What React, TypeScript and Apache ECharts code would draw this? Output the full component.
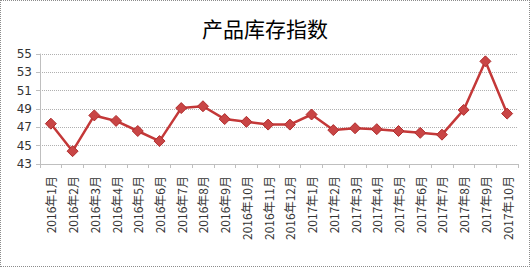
import React, { useEffect, useRef } from "react";
import * as echarts from "echarts";

const categories = [
  "2016年1月", "2016年2月", "2016年3月", "2016年4月", "2016年5月", "2016年6月",
  "2016年7月", "2016年8月", "2016年9月", "2016年10月", "2016年11月", "2016年12月",
  "2017年1月", "2017年2月", "2017年3月", "2017年4月", "2017年5月", "2017年6月",
  "2017年7月", "2017年8月", "2017年9月", "2017年10月",
];
const inventoryIndex = [
  47.4, 44.4, 48.3, 47.7, 46.6, 45.5, 49.1, 49.3, 47.9, 47.6, 47.3,
  47.3, 48.4, 46.7, 46.9, 46.8, 46.6, 46.4, 46.2, 48.9, 54.2, 48.5,
];
const title = "产品库存指数";

export default function App() {
  const ref = useRef<HTMLDivElement>(null);
  useEffect(() => {
    if (!ref.current) return;
    const chart = echarts.init(ref.current, undefined, { renderer: "svg" });
    chart.setOption({
      animation: false,
      backgroundColor: "#ffffff",
      title: {
        text: title,
        left: "center",
        top: 11,
        textStyle: {
          fontFamily: "Noto Sans CJK SC",
          fontSize: 21,
          fontWeight: "normal",
          color: "#000",
        },
      },
      grid: { left: 39, right: 11, top: 53, bottom: 102 },
      xAxis: {
        type: "category",
        data: categories,
        boundaryGap: true,
        axisLine: { lineStyle: { color: "#bfbfbf", width: 1 } },
        axisTick: { show: true, alignWithLabel: false, length: 4, lineStyle: { color: "#bfbfbf" } },
        axisLabel: {
          rotate: 90,
          interval: 0,
          margin: 12,
          fontSize: 12,
          color: "#333",
          fontFamily: "Noto Sans CJK SC",
        },
      },
      yAxis: {
        type: "value",
        min: 43,
        max: 55,
        interval: 2,
        axisLine: { show: true, lineStyle: { color: "#bfbfbf" } },
        axisTick: { show: true, length: 4, lineStyle: { color: "#bfbfbf" } },
        axisLabel: { fontSize: 12, color: "#333", margin: 8, fontFamily: "DejaVu Sans" },
        splitLine: { lineStyle: { color: "#b0b0b0", type: "dotted", width: 1 } },
      },
      series: [
        {
          type: "line",
          data: inventoryIndex,
          symbol: "diamond",
          symbolSize: 11,
          lineStyle: { color: "#C43838", width: 2.5 },
          itemStyle: { color: "#C94545", borderColor: "#B02E2E", borderWidth: 1 },
        },
      ],
    });
    return () => chart.dispose();
  }, []);
  return (
    <div
      style={{
        position: "fixed",
        left: 0,
        top: 0,
        width: 530,
        height: 267,
        boxSizing: "border-box",
        border: "1px dotted #8c8c8c",
        background: "#fff",
      }}
    >
      <div ref={ref} style={{ width: 528, height: 265 }} />
    </div>
  );
}
